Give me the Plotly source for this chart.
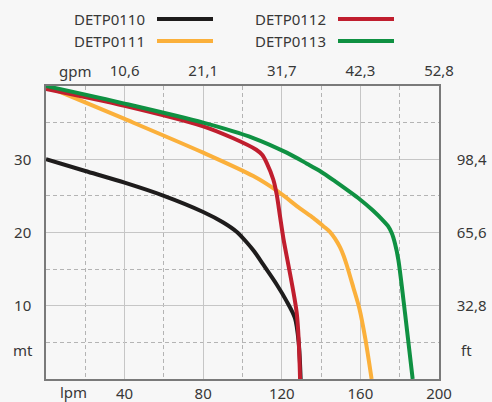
import plotly.graph_objects as go

# ---- data (flow in l/min, head in m) ----
names = ["DETP0110", "DETP0111", "DETP0112", "DETP0113"]
colors = ["#1e1c1c", "#fbb03b", "#c01e2e", "#0f9142"]

flow_0110 = [0, 20, 40, 60, 80, 90, 97, 102, 106, 110.6, 117.4, 122.5, 126.7, 128.6, 129.6]
head_0110 = [30, 28.4, 26.8, 25.0, 22.8, 21.4, 20.1, 18.7, 17.4, 15.6, 12.9, 10.6, 8.3, 5.0, 0]

flow_0111 = [0, 40, 80, 105.5, 118, 129.2, 136, 141, 144.5, 147, 149.6, 151.5, 153, 156.4, 159.5, 162.5, 165.7]
head_0111 = [40, 35.5, 30.9, 27.7, 25.6, 23.3, 22.0, 20.9, 20.1, 19.2, 18.0, 16.8, 15.6, 12.5, 9.6, 5.5, 0]

flow_0112 = [0, 40, 80, 95, 107, 110, 112.3, 115.7, 117.4, 119.1, 120.8, 127.6, 129.3]
head_0112 = [39.6, 37.3, 34.5, 32.9, 31.3, 30.6, 29.5, 27.2, 25.2, 22.2, 19.2, 9.0, 0]

flow_0113 = [0, 40, 80, 105.5, 122.5, 132.8, 139.4, 147, 159.8, 166.4, 171.7, 174, 176, 177.6, 179.3, 182.7, 186.6]
head_0113 = [40, 37.6, 35.0, 32.9, 30.9, 29.4, 28.4, 27.0, 24.5, 23.0, 21.6, 20.9, 19.9, 18.5, 16.3, 9.0, 0]

lpm_ticks = [40, 80, 120, 160, 200]
gpm_labels = ["10,6", "21,1", "31,7", "42,3", "52,8"]
mt_ticks = [10, 20, 30]
ft_labels = ["32,8", "65,6", "98,4"]

flows = [flow_0110, flow_0111, flow_0112, flow_0113]
heads = [head_0110, head_0111, head_0112, head_0113]

FONT = "Noto Sans"
TXT = "#383838"
GRID = "#c6c6c6"
MINOR = "#b4b4b4"
AXL = "#7a7a7a"
BG = "#f7f7f7"

fig = go.Figure()
for i in range(4):
    fig.add_trace(go.Scatter(
        x=flows[i], y=heads[i], mode="lines", name=names[i],
        line=dict(color=colors[i], width=4, shape="spline", smoothing=0.8),
        showlegend=False, hoverinfo="skip"))

# empty trace to carry the secondary axes
fig.add_trace(go.Scatter(x=[], y=[], xaxis="x2", yaxis="y2", showlegend=False))

tick_font = dict(family=FONT, size=15, color=TXT)
axis_common = dict(
    showline=True, linecolor=AXL, linewidth=1.5, mirror=False,
    showgrid=True, gridcolor=GRID, gridwidth=1,
    zeroline=False, ticks="", fixedrange=True, automargin=False,
    tickfont=tick_font,
)

fig.update_layout(
    width=492, height=402,
    margin=dict(l=46, r=53, t=86, b=23, autoexpand=False),
    paper_bgcolor=BG, plot_bgcolor=BG,
    showlegend=False,
    xaxis=dict(range=[0, 200], tickvals=lpm_ticks,
               ticktext=[str(v) for v in lpm_ticks],
               minor=dict(dtick=20, tick0=0, showgrid=True, gridcolor=MINOR,
                          griddash="4px,3px", gridwidth=1),
               ticklabelstandoff=0,
               **axis_common),
    yaxis=dict(range=[0, 40], tickvals=mt_ticks,
               ticktext=[str(v) for v in mt_ticks],
               minor=dict(dtick=5, tick0=0, showgrid=True, gridcolor=MINOR,
                          griddash="4px,3px", gridwidth=1),
               ticklabelstandoff=10,
               **axis_common),
    xaxis2=dict(range=[0, 200], overlaying="x", side="top", anchor="y",
                tickvals=lpm_ticks, ticktext=gpm_labels,
                showline=True, linecolor=AXL, linewidth=1.5, showgrid=False,
                zeroline=False, ticks="", fixedrange=True, ticklabelstandoff=2,
                automargin=False, tickfont=tick_font),
    yaxis2=dict(range=[0, 40], overlaying="y", side="right", anchor="x",
                tickvals=mt_ticks, ticktext=ft_labels,
                showline=True, linecolor=AXL, linewidth=1.5, showgrid=False,
                zeroline=False, ticks="", fixedrange=True, ticklabelstandoff=13,
                automargin=False, tickfont=tick_font),
)

# unit labels
unit_font = dict(family=FONT, size=15, color=TXT)
fig.add_annotation(text="mt", xref="paper", yref="y", x=0, y=3.9,
                   xanchor="right", yanchor="middle", xshift=-11,
                   showarrow=False, font=unit_font)
fig.add_annotation(text="ft", xref="paper", yref="y", x=1, y=3.9,
                   xanchor="left", yanchor="middle", xshift=20,
                   showarrow=False, font=unit_font)
fig.add_annotation(text="lpm", xref="x", yref="paper", x=14, y=0,
                   xanchor="center", yanchor="top", yshift=-1,
                   showarrow=False, font=unit_font)
fig.add_annotation(text="gpm", xref="x", yref="paper", x=15, y=1,
                   xanchor="center", yanchor="bottom", yshift=3,
                   showarrow=False, font=unit_font)

# custom legend: text followed by line sample
leg_pos = [(72, 19, 157, 213), (72, 41, 157, 213), (253, 19, 338, 394), (253, 41, 338, 394)]
def px_x(p):
    return (p - 46) / 393.0
def px_y(p):
    return (379 - p) / 293.0
for i, (tx, ty, lx0, lx1) in enumerate(leg_pos):
    fig.add_annotation(text=names[i], xref="paper", yref="paper",
                       x=px_x(tx), y=px_y(ty), xanchor="left", yanchor="middle",
                       showarrow=False, font=dict(family=FONT, size=15, color=TXT))
    fig.add_shape(type="line", xref="paper", yref="paper",
                  x0=px_x(lx0), x1=px_x(lx1), y0=px_y(ty), y1=px_y(ty),
                  line=dict(color=colors[i], width=4))

fig.write_html(
    "out.html",
    config={"displayModeBar": False},
    post_script="document.body.style.margin='0';document.body.style.background='#f7f7f7';",
)
